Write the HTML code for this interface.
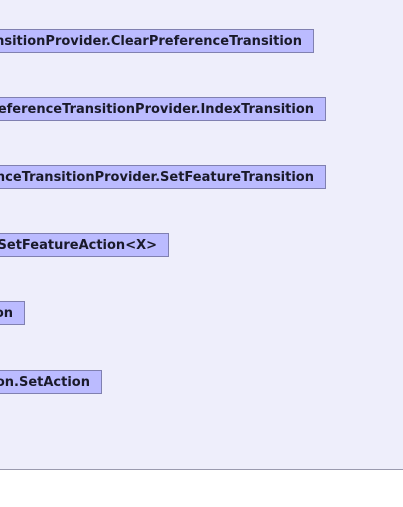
<!DOCTYPE html>
<html><head><meta charset="utf-8"><style>
html,body{margin:0;padding:0;width:403px;height:507px;overflow:hidden;background:#fff}
.bg{position:absolute;left:0;top:0;width:403px;height:469px;background:#eeeefb;border-bottom:1px solid #9a9aae;overflow:hidden}
.b{position:absolute;height:24px;background:#bbbbff;border:1px solid #8080b0;box-sizing:border-box;
font:bold 13px "DejaVu Sans","Liberation Sans",sans-serif;color:#1a1a2a;line-height:23px;
white-space:nowrap;text-align:right;padding-right:11px;left:-600px;overflow:hidden}
</style></head><body>
<div class="bg">
<div class="b" style="top:29px;width:914px">PreferenceTransitionProvider.ClearPreferenceTransition</div>
<div class="b" style="top:97px;width:926px">PreferenceTransitionProvider.IndexTransition</div>
<div class="b" style="top:165px;width:926px">PreferenceTransitionProvider.SetFeatureTransition</div>
<div class="b" style="top:233px;width:769px">SetFeatureAction&lt;X&gt;</div>
<div class="b" style="top:301px;width:625px">Action</div>
<div class="b" style="top:370px;width:702px">Action.SetAction</div>
</div>
</body></html>
